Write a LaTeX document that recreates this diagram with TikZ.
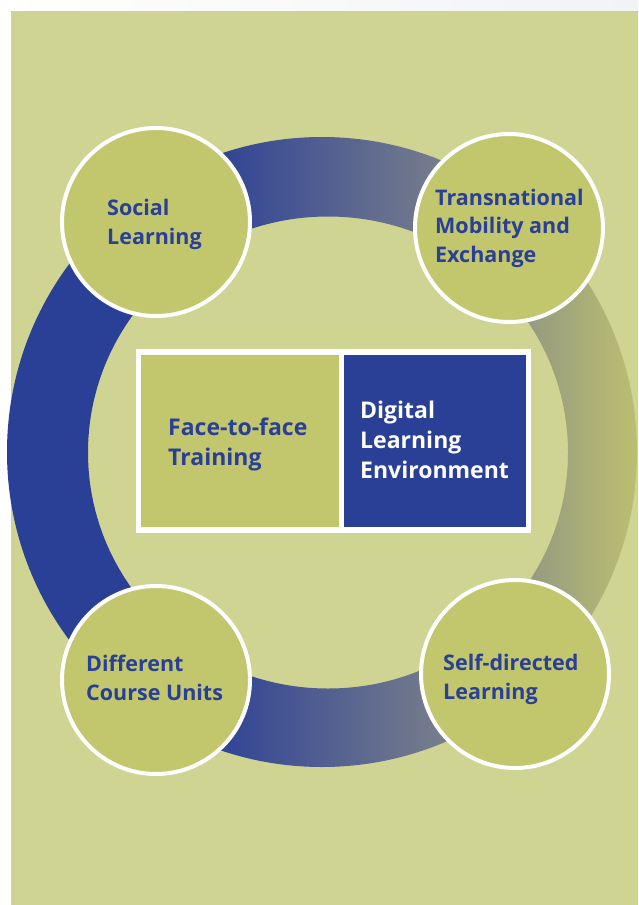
\documentclass[tikz,border=0pt]{standalone}
\usepackage{fontspec}
\setmainfont{Open Sans}
\definecolor{panel}{RGB}{207,212,147}
\definecolor{topgrey}{RGB}{242,243,245}
\definecolor{ringblue}{RGB}{42,63,150}
\definecolor{ringgrey}{RGB}{122,128,140}
\definecolor{ringolive}{RGB}{188,192,112}
\definecolor{circfill}{RGB}{194,198,108}
\definecolor{txtblue}{RGB}{42,63,150}
\tikzset{
  topic/.style={circle, draw=white, line width=4pt, fill=circfill, minimum size=188pt, inner sep=0pt},
  lbl/.style={anchor=base west, inner sep=0pt, align=left, text=txtblue, font=\fontsize{21.5}{28.5}\selectfont\bfseries},
  rlbl/.style={anchor=base west, inner sep=0pt, align=left, font=\fontsize{23}{30}\selectfont\bfseries}
}
\begin{document}
\begin{tikzpicture}[x=1pt,y=-1pt]
\useasboundingbox (0,0) rectangle (638,905);
\fill[white] (0,0) rectangle (638,905);
\shade[left color=white, right color=topgrey] (0,0) rectangle (638,11);
\fill[panel] (11,11) rectangle (638,905);
% ring
\begin{scope}[even odd rule]
\clip (322,452) circle (315) (328,452.5) ellipse (240 and 236);
\fill[ringblue] (0,100) rectangle (201,800);
\shade[left color=ringblue, right color=ringgrey] (200,100) rectangle (451,800);
\shade[left color=ringgrey, right color=ringolive] (450,100) rectangle (640,800);
\end{scope}
% circles
\node[topic] (c1) at (156,222) {};
\node[topic] (c2) at (509,228) {};
\node[topic] (c3) at (156,680) {};
\node[topic] (c4) at (515,674) {};
\node[lbl] (t1) at (107,244) {Social\\Learning};
\node[lbl] (t2) at (435,262) {Transnational\\Mobility and\\Exchange};
\node[lbl] (t3) at (86,700) {Different\\Course Units};
\node[lbl] (t4) at (443,699) {Self-directed\\Learning};
% central boxes
\fill[white] (136,349) rectangle (531,533);
\fill[circfill] (141,355) rectangle (339,527);
\fill[ringblue] (344,355) rectangle (526,527);
\node[rlbl, text=txtblue] (t5) at (168,465) {Face-to-face\\Training};
\node[rlbl, text=white] (t6) at (360,478) {Digital\\Learning\\Environment};
\end{tikzpicture}
\end{document}
